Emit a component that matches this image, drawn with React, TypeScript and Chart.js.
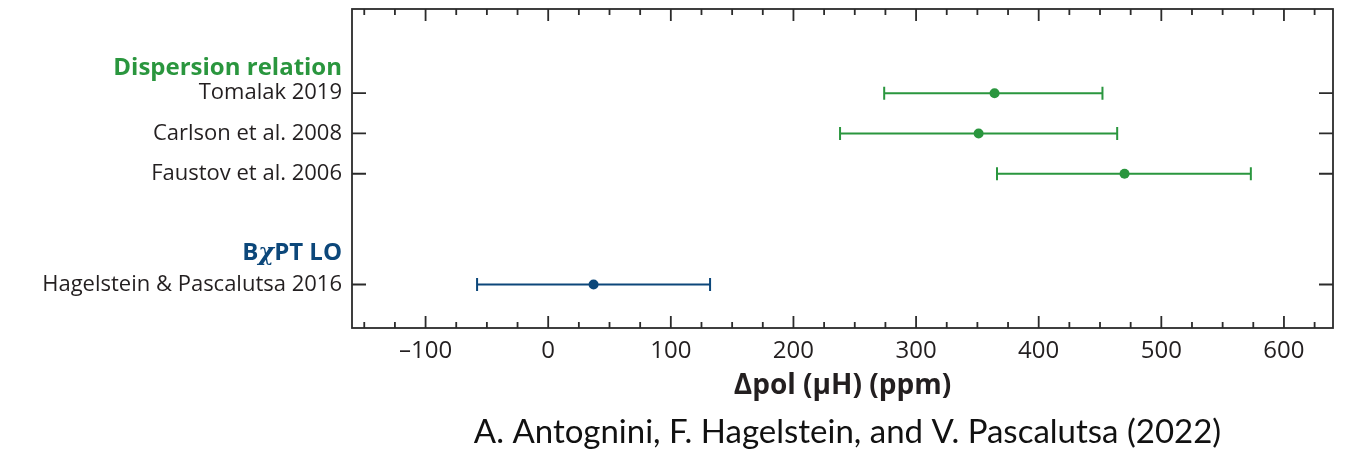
import React, { useEffect, useRef } from "react";
import { Chart, registerables } from "chart.js";

Chart.register(...registerables);

// ---- data ----
const studies = [
  "Tomalak 2019",
  "Carlson et al. 2008",
  "Faustov et al. 2006",
  "Hagelstein & Pascalutsa 2016",
];
const studyGroup = [0, 0, 0, 1];
const central = [364, 351, 470, 37];
const lower = [274, 238, 366, -58];
const upper = [452, 464, 573, 132];
const rowPos = [1, 2, 3, 5.75];
const groupNames = ["Dispersion relation", "BχPT LO"];
const groupHeaderPos = [0.38, 4.98];
const xTicks = [-100, 0, 100, 200, 300, 400, 500, 600];
const xTitle = "Δpol (μH) (ppm)";
const caption = "A. Antognini, F. Hagelstein, and V. Pascalutsa (2022)";

// ---- style ----
const GREEN = "#2a963e";
const BLUE = "#0c477a";
const groupColors = [GREEN, BLUE];
const INK = "#231f20";
const AXIS = "#2b2b2b";
const X_MIN = -160;
const X_MAX = 640;
const MINOR_STEP = 25;
const FONT = "'Open Sans', 'Lato', sans-serif";

const fmt = (v: number) => (v < 0 ? "\u2013" + Math.abs(v) : String(v));

const decorPlugin = {
  id: "decor",
  beforeDatasetsDraw(chart: any) {
    const ctx = chart.ctx;
    const xs = chart.scales.x;
    const ys = chart.scales.y;
    ctx.save();
    ctx.lineWidth = 2;
    for (let i = 0; i < studies.length; i++) {
      const col = groupColors[studyGroup[i]];
      const y = ys.getPixelForValue(rowPos[i]);
      const x0 = xs.getPixelForValue(lower[i]);
      const x1 = xs.getPixelForValue(upper[i]);
      ctx.strokeStyle = col;
      ctx.beginPath();
      ctx.moveTo(x0, y);
      ctx.lineTo(x1, y);
      ctx.moveTo(x0, y - 6.5);
      ctx.lineTo(x0, y + 6.5);
      ctx.moveTo(x1, y - 6.5);
      ctx.lineTo(x1, y + 6.5);
      ctx.stroke();
    }
    ctx.restore();
  },
  afterDraw(chart: any) {
    const ctx = chart.ctx;
    const xs = chart.scales.x;
    const ys = chart.scales.y;
    const a = chart.chartArea;
    ctx.save();
    // frame
    ctx.strokeStyle = AXIS;
    ctx.lineWidth = 1.8;
    ctx.strokeRect(a.left, a.top, a.right - a.left, a.bottom - a.top);
    // x ticks (top & bottom, inward)
    ctx.beginPath();
    for (let v = Math.ceil(X_MIN / MINOR_STEP) * MINOR_STEP; v <= X_MAX; v += MINOR_STEP) {
      const px = xs.getPixelForValue(v);
      const len = v % 100 === 0 ? 12 : 6;
      ctx.moveTo(px, a.bottom);
      ctx.lineTo(px, a.bottom - len);
      ctx.moveTo(px, a.top);
      ctx.lineTo(px, a.top + len);
    }
    // y ticks (left & right, inward)
    for (const r of rowPos) {
      const py = ys.getPixelForValue(r);
      ctx.moveTo(a.left, py);
      ctx.lineTo(a.left + 14, py);
      ctx.moveTo(a.right, py);
      ctx.lineTo(a.right - 14, py);
    }
    ctx.stroke();

    // group headers
    ctx.textBaseline = "middle";
    const rightX = a.left - 10;
    for (let g = 0; g < groupNames.length; g++) {
      const y = ys.getPixelForValue(groupHeaderPos[g]);
      ctx.fillStyle = groupColors[g];
      const name = groupNames[g];
      const idx = name.indexOf("χ");
      const boldFont = "bold 24px " + FONT;
      if (idx < 0) {
        ctx.font = boldFont;
        ctx.textAlign = "right";
        ctx.fillText(name, rightX, y);
      } else {
        const parts = [name.slice(0, idx), "χ", name.slice(idx + 1)];
        const fonts = [boldFont, "italic bold 24px 'DejaVu Serif', serif", boldFont];
        let total = 0;
        const widths = parts.map((p, k) => {
          ctx.font = fonts[k];
          const w = ctx.measureText(p).width;
          total += w;
          return w;
        });
        let x = rightX - total;
        ctx.textAlign = "left";
        parts.forEach((p, k) => {
          ctx.font = fonts[k];
          ctx.fillText(p, x, y);
          x += widths[k];
        });
      }
    }

    // caption
    ctx.fillStyle = "#111111";
    ctx.font = "33px 'Lato', sans-serif";
    ctx.textAlign = "center";
    ctx.textBaseline = "middle";
    ctx.fillText(caption, (a.left + a.right) / 2 + 5, 432);
    ctx.restore();
  },
};

export default function App() {
  const ref = useRef<HTMLCanvasElement | null>(null);
  useEffect(() => {
    if (!ref.current) return;
    const mk = (g: number) =>
      studies
        .map((s, i) => ({ x: central[i], y: rowPos[i], g: studyGroup[i] }))
        .filter((p) => p.g === g)
        .map((p) => ({ x: p.x, y: p.y }));
    const chart = new Chart(ref.current, {
      type: "scatter",
      data: {
        datasets: groupNames.map((n, g) => ({
          label: n,
          data: mk(g),
          backgroundColor: groupColors[g],
          borderColor: groupColors[g],
          pointRadius: 5,
          pointBorderWidth: 0,
        })),
      },
      options: {
        animation: false,
        responsive: false,
        layout: { padding: { left: 0, right: 12, top: 9, bottom: 0 } },
        plugins: { legend: { display: false }, tooltip: { enabled: false } },
        scales: {
          x: {
            type: "linear",
            min: X_MIN,
            max: X_MAX,
            afterBuildTicks: (s: any) => {
              s.ticks = xTicks.map((v) => ({ value: v }));
            },
            afterFit: (s: any) => {
              s.height = 126;
              s.paddingLeft = 0;
              s.paddingRight = 0;
            },
            grid: { display: false, drawTicks: false },
            border: { display: false },
            ticks: {
              callback: (v: any) => fmt(Number(v)),
              color: INK,
              font: { family: FONT, size: 24 },
              padding: 9,
              maxRotation: 0,
              autoSkip: false,
            },
            title: {
              display: true,
              text: xTitle,
              color: INK,
              font: { family: FONT, size: 28, weight: "bold" },
              padding: { top: 0, bottom: 51 },
            },
          },
          y: {
            type: "linear",
            reverse: true,
            min: -1.09,
            max: 6.83,
            afterBuildTicks: (s: any) => {
              s.ticks = rowPos.map((v) => ({ value: v }));
            },
            afterFit: (s: any) => {
              s.width = 352;
              s.paddingTop = 0;
              s.paddingBottom = 0;
            },
            grid: { display: false, drawTicks: false },
            border: { display: false },
            ticks: {
              callback: (v: any) => {
                const i = rowPos.indexOf(Number(v));
                return i >= 0 ? studies[i] : "";
              },
              color: INK,
              font: { family: FONT, size: 22 },
              padding: 10,
              autoSkip: false,
            },
          },
        },
      },
      plugins: [decorPlugin],
    });
    return () => chart.destroy();
  }, []);
  return (
    <div style={{ position: "absolute", left: 0, top: 0, width: 1345, height: 454, background: "#fff" }}>
      <canvas ref={ref} width={1345} height={454} style={{ display: "block" }} />
    </div>
  );
}
